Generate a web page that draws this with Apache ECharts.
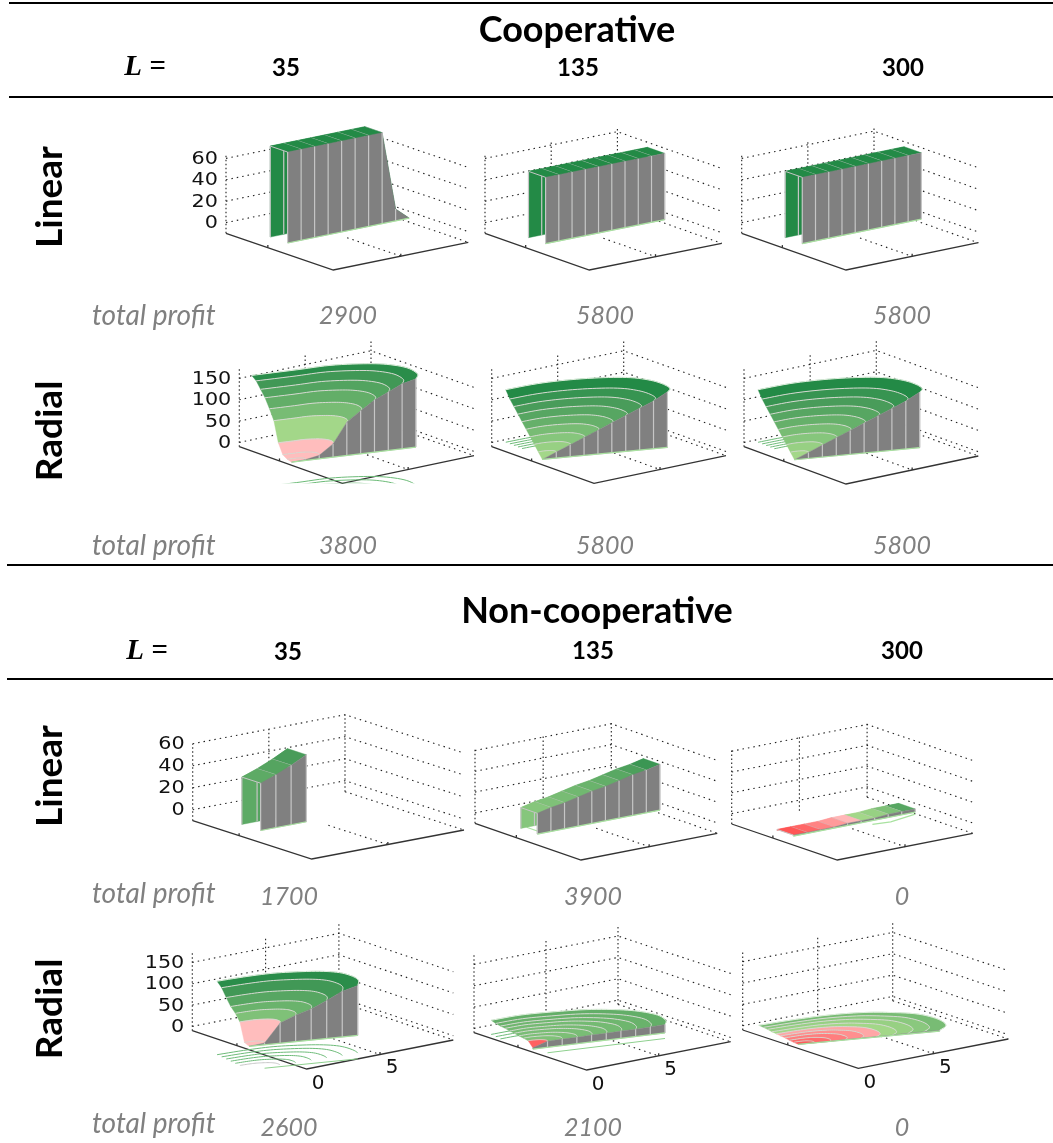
<!DOCTYPE html>
<html>
<head>
<meta charset="utf-8">
<title>Cooperative / Non-cooperative profit surfaces</title>
<script src="https://cdn.jsdelivr.net/npm/echarts@6/dist/echarts.min.js"></script>
<style>
  html, body { margin: 0; padding: 0; background: #fff; }
  #main { width: 1053px; height: 1143px; }
</style>
</head>
<body>
<div id="main"></div>
<script>
// heights, one value per grid line
const coopLinear35 = [85, 85, 85, 85, 85, 85, 85, 85, 11, 0];
const coopLinear135 = [62, 62, 62, 62, 62, 62, 62, 62, 62, 62];
const coopLinear300 = [62, 62, 62, 62, 62, 62, 62, 62, 62, 62];
const nonLinear35 = [43, 48, 54, 61];
const nonLinear135 = [20, 23, 25, 28, 31, 33, 36, 39, 41, 44];
const nonLinear300 = [1, 1, 1, 1, 2, 2, 2, 3, 3, 3];
const coopRadial35 = [0, 2, 8, 31, 78, 101, 122, 137, 152, 160];
const coopRadial135 = [0, 14, 28, 42, 56, 70, 84, 98, 112, 130];
const coopRadial300 = [0, 14, 28, 42, 56, 70, 84, 98, 112, 130];
const nonRadial35 = [0, 4, 47, 62, 73, 89, 107, 117];
const nonRadial135 = [3, 14, 15, 15, 16, 16, 17, 17, 18, 20];
const nonRadial300 = [0, 0, 0, 1, 1, 1, 1, 2, 2, 2];

// colour value of each band, -1 red .. 0 pale green .. 1 dark green
const shadeCoopLinear35 = [1, 1, 1, 1, 1, 1, 1, 1, 1];
const shadeCoopLinear135 = [1, 1, 1, 1, 1, 1, 1, 1, 1];
const shadeNonLinear35 = [0.55, 0.62, 0.72];
const shadeNonLinear135 = [0.25, 0.3, 0.35, 0.4, 0.45, 0.5, 0.58, 0.68, 0.82];
const shadeNonLinear300 = [-1, -0.85, -0.6, -0.4, -0.15, 0.02, 0.12, 0.3, 0.6];
const shadeCoopRadial35 = [-0.1, -0.1, -0.1, 0.02, 0.35, 0.5, 0.63, 0.78, 0.95];
const shadeCoopRadial135 = [0.02, 0.12, 0.25, 0.35, 0.48, 0.6, 0.72, 0.85, 1];
const shadeNonRadial35 = [-0.1, -0.1, 0.3, 0.45, 0.6, 0.78, 0.95];
const shadeNonRadial135 = [-0.9, 0.3, 0.32, 0.34, 0.36, 0.38, 0.42, 0.46, 0.5];
const shadeNonRadial300 = [-0.95, -0.8, -0.65, -0.5, -0.3, 0.03, 0.12, 0.22, 0.35];

// outer edge of the radial surfaces on the two floor axes
const rimU35 = [0.42, 3.32, 5.5, 7.31, 8.35, 8.85, 8.55, 7.81];
const rimV35 = [9.33, 8.67, 8.23, 7.31, 6.36, 5.06, 3.65, 2.84];
const rimU135 = [0.3, 2.61, 4.74, 6.59, 7.88, 8.48, 8.56, 8.3, 7.74];
const rimV135 = [9.01, 8.91, 8.39, 7.56, 6.58, 5.39, 4.25, 3.3, 2.81];
const rimUNon35 = [0.45, 2.13, 3.7, 4.9, 6.12, 6.8, 6.89, 6.62, 5.95];
const rimVNon35 = [8.41, 8.25, 7.96, 7.46, 6.71, 5.85, 4.81, 3.97, 3.16];
const rimUNon135 = [0.69, 2.69, 4.52, 6.24, 7.51, 8.29, 8.63, 8.28, 7.73];
const rimVNon135 = [9.36, 9.26, 8.72, 8.02, 7.05, 6.03, 4.73, 3.56, 2.93];
const rimUNon300 = [0.62, 2.98, 4.95, 6.66, 7.79, 8.72, 8.91, 8.47, 7.57];
const rimVNon300 = [9.41, 9.19, 8.82, 8.14, 7.27, 6.13, 4.65, 3.41, 2.79];

const zTicksLinear = [0, 20, 40, 60];
const zTicksRadial = [0, 50, 100, 150];
const columnLabels = ["35", "135", "300"];
const profitCoopLinear = ["2900", "5800", "5800"];
const profitCoopRadial = ["3800", "5800", "5800"];
const profitNonLinear = ["1700", "3900", "0"];
const profitNonRadial = ["2600", "2100", "0"];

// colours
const GRAY = "#808080";
const GRID = "#c6c6c6";
const EDGE = "#a9e2a0";
const CONTOUR = "#6dbb78";
const shadeStops = [
  [-1, [255, 85, 85]], [-0.5, [255, 143, 143]], [-0.02, [255, 198, 198]],
  [0, [166, 217, 138]], [0.25, [134, 198, 124]], [0.5, [99, 174, 104]],
  [0.75, [69, 154, 88]], [1, [35, 138, 70]],
];
function shadeColor(s) {
  for (let i = 1; i < shadeStops.length; i++) {
    if (s <= shadeStops[i][0]) {
      const a = shadeStops[i - 1], b = shadeStops[i];
      const t = (s - a[0]) / (b[0] - a[0]);
      const c = a[1].map((v, k) => Math.round(v + (b[1][k] - v) * t));
      return "rgb(" + c.join(",") + ")";
    }
  }
  return "rgb(35,138,70)";
}

// box: front, left and right floor corners on the page, px per z unit
function makeBox(F, L, R, zPx, zTop, zTicks) {
  return {
    F: F, L: L, R: R, zPx: zPx, zMin: -10, zTop: zTop, zTicks: zTicks,
    U: [(R[0] - F[0]) / 10, (R[1] - F[1]) / 10],
    V: [(L[0] - F[0]) / 10, (L[1] - F[1]) / 10],
  };
}
function project(box, p) {
  return [
    box.F[0] + p[0] * box.U[0] + p[1] * box.V[0],
    box.F[1] + p[0] * box.U[1] + p[1] * box.V[1] - (p[2] - box.zMin) * box.zPx,
  ];
}

function addBox(faces, box) {
  const dot = { stroke: "#222", lineWidth: 1.1, lineDash: [1.5, 4] };
  const dotUp = { stroke: "#222", lineWidth: 1.1, lineDash: [1.5, 2.5] };
  const solid = { stroke: "#333", lineWidth: 1.3 };
  box.zTicks.forEach((z) => {
    faces.push({ kind: "line", pts: [[0, 10, z], [10, 10, z], [10, 0, z]], style: dot });
  });
  [0, 5, 10].forEach((u) => {
    faces.push({ kind: "line", pts: [[u, 10, box.zMin], [u, 10, box.zTop]], style: dotUp });
  });
  faces.push({ kind: "line", pts: [[10, 10, box.zMin], [10, 0, box.zMin]], style: dot });
  faces.push({ kind: "line", pts: [[5, 5, box.zMin], [5, 0, box.zMin]], style: dot });
  faces.push({ kind: "line", pts: [[0, 10, box.zMin], [0, 0, box.zMin], [10, 0, box.zMin]], style: solid });
  const tick = 2.5 / box.zPx;
  faces.push({ kind: "line", pts: [[5, 0, box.zMin], [5, 0, box.zMin + tick]], style: solid });
  faces.push({ kind: "line", pts: [[0, 6.1, box.zMin], [0, 6.1, box.zMin + tick]], style: solid });
}

function addZLabels(faces, box) {
  box.zTicks.forEach((z) => {
    faces.push({ kind: "text", pts: [[0, 10, z]], text: String(z), dx: -8, dy: 1, align: "right", scaleX: 1.22, size: 17 });
  });
}
function addFloorLabels(faces) {
  faces.push({ kind: "text", pts: [[0, 0, -10]], text: "0", dx: 11.5, dy: 15, align: "center", scaleX: 1.05, size: 19 });
  faces.push({ kind: "text", pts: [[5, 0, -10]], text: "5", dx: 12, dy: 14, align: "center", scaleX: 1.05, size: 19 });
}

// straight strip: back wall, top, front wall
function addStrip(faces, u0, vFront, width, zs, shades) {
  const vBack = vFront + width;
  for (let i = 0; i < zs.length - 1; i++) {
    faces.push({
      kind: "poly",
      pts: [[u0 + i, vBack, 0], [u0 + i + 1, vBack, 0], [u0 + i + 1, vBack, zs[i + 1]], [u0 + i, vBack, zs[i]]],
      fill: shadeColor(shades[i]),
    });
    faces.push({ kind: "line", pts: [[u0 + i, vBack, 0], [u0 + i, vBack, zs[i]]], style: { stroke: GRID, lineWidth: 1.2 } });
  }
  for (let i = zs.length - 2; i >= 0; i--) {
    faces.push({
      kind: "poly",
      pts: [[u0 + i, vFront, zs[i]], [u0 + i + 1, vFront, zs[i + 1]], [u0 + i + 1, vBack, zs[i + 1]], [u0 + i, vBack, zs[i]]],
      fill: shadeColor(shades[i]),
    });
    faces.push({ kind: "line", pts: [[u0 + i, vFront, zs[i]], [u0 + i, vBack, zs[i]]], style: { stroke: GRID, lineWidth: 1 } });
  }
  for (let i = 0; i < zs.length - 1; i++) {
    faces.push({
      kind: "poly",
      pts: [[u0 + i, vFront, 0], [u0 + i + 1, vFront, 0], [u0 + i + 1, vFront, zs[i + 1]], [u0 + i, vFront, zs[i]]],
      fill: GRAY,
    });
  }
  for (let i = 0; i < zs.length; i++) {
    faces.push({ kind: "line", pts: [[u0 + i, vFront, 0], [u0 + i, vFront, zs[i]]], style: { stroke: GRID, lineWidth: 1.2 } });
  }
  faces.push({
    kind: "line",
    pts: [[u0, vFront, 0], [u0 + zs.length - 1, vFront, 0]],
    style: { stroke: EDGE, lineWidth: 1.2 },
  });
}

// smooth curve through the rim readings
function smoothRim(us, vs) {
  const out = [];
  const n = us.length;
  const at = (arr, i) => arr[Math.max(0, Math.min(n - 1, i))];
  for (let i = 0; i < n - 1; i++) {
    for (let t = 0; t < 6; t++) {
      const s = t / 6;
      const cr = (arr) => 0.5 * (2 * at(arr, i) + (at(arr, i + 1) - at(arr, i - 1)) * s +
        (2 * at(arr, i - 1) - 5 * at(arr, i) + 4 * at(arr, i + 1) - at(arr, i + 2)) * s * s +
        (3 * at(arr, i) - at(arr, i - 1) - 3 * at(arr, i + 1) + at(arr, i + 2)) * s * s * s);
      out.push([cr(us), cr(vs)]);
    }
  }
  out.push([us[n - 1], vs[n - 1]]);
  return out;
}

// radial surface: bands between scaled copies of the rim around the apex
// contour = { z, from, part, edge } draws the floor contours first
function addRadial(faces, box, apex, rimU, rimV, zs, shades, contour) {
  const rim = smoothRim(rimU, rimV);
  const N = zs.length - 1;
  const ring = (k, z) => rim.map((p) => [
    apex[0] + (p[0] - apex[0]) * k / N,
    apex[1] + (p[1] - apex[1]) * k / N,
    z,
  ]);
  const end = rim[rim.length - 1];
  const onEdge = (k, z) => [apex[0] + (end[0] - apex[0]) * k / N, apex[1] + (end[1] - apex[1]) * k / N, z];

  if (contour) {
    for (let k = N; k >= contour.from; k--) {
      const pts = ring(k, contour.z);
      faces.push({
        kind: "line", pts: pts.slice(0, Math.round(pts.length * contour.part)),
        style: { stroke: shades[k - 1] < 0 ? GRID : CONTOUR, lineWidth: 1 },
        clipY: box.F[1],
      });
    }
    if (contour.edge) {
      faces.push({
        kind: "line", pts: [onEdge(1, contour.z), onEdge(N, contour.z)],
        style: { stroke: "#8ed08e", lineWidth: 1 }, clipY: box.F[1],
      });
    }
  }
  for (let k = N; k >= 1; k--) {
    faces.push({
      kind: "poly",
      pts: ring(k, zs[k]).concat(ring(k - 1, zs[k - 1]).reverse()),
      fill: shadeColor(shades[k - 1]),
    });
    faces.push({
      kind: "line", pts: ring(k, zs[k]),
      style: { stroke: k === N ? "#dfeedd" : "#d4d8d0", lineWidth: 1 },
    });
  }
  for (let k = 0; k < N; k++) {
    faces.push({
      kind: "poly",
      pts: [onEdge(k, 0), onEdge(k + 1, 0), onEdge(k + 1, zs[k + 1]), onEdge(k, zs[k])],
      fill: GRAY,
    });
  }
  for (let k = 1; k <= N; k++) {
    faces.push({ kind: "line", pts: [onEdge(k, 0), onEdge(k, zs[k])], style: { stroke: GRID, lineWidth: 1.2 } });
  }
  faces.push({ kind: "line", pts: [onEdge(0, 0), onEdge(N, 0)], style: { stroke: EDGE, lineWidth: 1.2 } });
}

function makeSeries(name, box, fill) {
  const faces = [];
  addBox(faces, box);
  fill(faces);
  return {
    name: name,
    type: "custom",
    coordinateSystem: "cartesian2d",
    silent: true,
    animation: false,
    clip: false,
    data: faces.map((f, i) => [i]),
    renderItem(params, api) {
      const f = faces[api.value(0)];
      const pts = f.pts.map((p) => api.coord(project(box, p)));
      if (f.kind === "text") {
        return {
          type: "text",
          x: pts[0][0] + f.dx,
          y: pts[0][1] + f.dy,
          scaleX: f.scaleX,
          style: {
            text: f.text, fontFamily: "DejaVu Sans", fontSize: f.size, fill: "#111",
            align: f.align, verticalAlign: "middle",
          },
        };
      }
      if (f.kind === "poly") {
        return {
          type: "polygon",
          shape: { points: pts },
          style: { fill: f.fill, stroke: f.fill, lineWidth: 0.4 },
        };
      }
      const el = { type: "polyline", shape: { points: pts }, style: Object.assign({ fill: null }, f.style) };
      if (f.clipY) {
        el.clipPath = { type: "rect", shape: { x: 0, y: 0, width: 1053, height: f.clipY } };
      }
      return el;
    },
  };
}

const box1 = makeBox([333.3, 270], [226, 233.3], [468.3, 242.3], 1.07, 63, zTicksLinear);
const box2 = makeBox([589.3, 270], [485, 233.3], [721.7, 243.3], 1.07, 63, zTicksLinear);
const box3 = makeBox([846, 270], [741.7, 233.3], [978.3, 242.7], 1.07, 63, zTicksLinear);
const box4 = makeBox([342.3, 483.3], [239.3, 446.7], [474, 455.7], 0.427, 177, zTicksRadial);
const box5 = makeBox([594, 483.3], [491.7, 446.7], [726, 455.7], 0.427, 177, zTicksRadial);
const box6 = makeBox([846, 484], [744, 446.7], [978.3, 456], 0.427, 177, zTicksRadial);
const box7 = makeBox([311.7, 859], [192.7, 820.7], [464, 830], 1.1, 60, zTicksLinear);
const box8 = makeBox([581, 860], [475, 823.3], [717.3, 833.3], 1.04, 63, zTicksLinear);
const box9 = makeBox([837.3, 860], [731.7, 824], [972.7, 833.3], 1.04, 63, zTicksLinear);
const box10 = makeBox([306.7, 1069], [192.3, 1030.7], [453.3, 1040], 0.427, 177, zTicksRadial);
const box11 = makeBox([586.7, 1070], [474, 1032.7], [730.7, 1041.7], 0.427, 177, zTicksRadial);
const box12 = makeBox([858.3, 1068.3], [742.7, 1030], [1008.3, 1039], 0.427, 177, zTicksRadial);

const series = [
  makeSeries("cooperative linear 35", box1, (faces) => {
    addZLabels(faces, box1);
    addStrip(faces, 0.09, 4.37, 1.62, coopLinear35, shadeCoopLinear35);
  }),
  makeSeries("cooperative linear 135", box2, (faces) => {
    addStrip(faces, 0.03, 4.23, 1.64, coopLinear135, shadeCoopLinear135);
  }),
  makeSeries("cooperative linear 300", box3, (faces) => {
    addStrip(faces, 0.03, 4.23, 1.64, coopLinear300, shadeCoopLinear135);
  }),
  makeSeries("cooperative radial 35", box4, (faces) => {
    addZLabels(faces, box4);
    addRadial(faces, box4, [-0.15, 4.73], rimU35, rimV35, coopRadial35, shadeCoopRadial35, { z: -104, from: 7, part: 1, edge: false });
  }),
  makeSeries("cooperative radial 135", box5, (faces) => {
    addRadial(faces, box5, [0.15, 5.24], rimU135, rimV135, coopRadial135, shadeCoopRadial135, { z: 7, from: 5, part: 0.5, edge: false });
  }),
  makeSeries("cooperative radial 300", box6, (faces) => {
    addRadial(faces, box6, [0.15, 5.24], rimU135, rimV135, coopRadial300, shadeCoopRadial135, { z: 7, from: 5, part: 0.5, edge: false });
  }),
  makeSeries("non-cooperative linear 35", box7, (faces) => {
    addZLabels(faces, box7);
    addStrip(faces, 0.14, 4.47, 1.58, nonLinear35, shadeNonLinear35);
  }),
  makeSeries("non-cooperative linear 135", box8, (faces) => {
    faces.push({ kind: "line", pts: [[0.05, 5.2, 3], [0.05, 4.19, 3]], style: { stroke: EDGE, lineWidth: 1.2 } });
    addStrip(faces, 0.05, 4.19, 1.55, nonLinear135, shadeNonLinear135);
  }),
  makeSeries("non-cooperative linear 300", box9, (faces) => {
    addStrip(faces, -0.2, 3.9, 1.55, nonLinear300, shadeNonLinear300);
    faces.push({ kind: "line", pts: [[5.4, 3.6, -2], [6.6, 3.4, -2], [8.8, 3.9, -2]], style: { stroke: EDGE, lineWidth: 1.2 } });
  }),
  makeSeries("non-cooperative radial 35", box10, (faces) => {
    addZLabels(faces, box10);
    addRadial(faces, box10, [-0.11, 4.9], rimUNon35, rimVNon35, nonRadial35, shadeNonRadial35, { z: -55, from: 2, part: 0.86, edge: true });
    addFloorLabels(faces);
  }),
  makeSeries("non-cooperative radial 135", box11, (faces) => {
    addRadial(faces, box11, [-0.15, 4.59], rimUNon135, rimVNon135, nonRadial135, shadeNonRadial135, { z: -13, from: 7, part: 0.4, edge: true });
    addFloorLabels(faces);
  }),
  makeSeries("non-cooperative radial 300", box12, (faces) => {
    addRadial(faces, box12, [-0.03, 5.17], rimUNon300, rimVNon300, nonRadial300, shadeNonRadial300, null);
    addFloorLabels(faces);
  }),
];

function label(text, x, y, size, extra) {
  return {
    type: "text", x: x, y: y, silent: true,
    rotation: (extra && extra.rotation) || 0,
    style: {
      text: text,
      fontFamily: (extra && extra.family) || "Lato",
      fontSize: size,
      fontWeight: (extra && extra.weight) || "bold",
      fontStyle: (extra && extra.italic) ? "italic" : "normal",
      fill: (extra && extra.color) || "#000",
      align: (extra && extra.align) || "center",
      verticalAlign: "middle",
    },
  };
}
function rule(y, x0) {
  return { type: "line", silent: true, shape: { x1: x0, y1: y, x2: 1053, y2: y }, style: { stroke: "#000", lineWidth: 2 } };
}
const gray = { weight: "normal", italic: true, color: GRAY };
const grayLeft = { weight: "normal", italic: true, color: GRAY, align: "left" };
const serif = { family: "Liberation Serif", italic: true };
const turned = { rotation: Math.PI / 2 };

const texts = [
  rule(3, 9), rule(97, 9), rule(565, 7), rule(679, 7),
  label("Cooperative", 577, 30, 36),
  label("Non-cooperative", 597, 611, 36),
  label("L =", 145, 68, 29, serif),
  label("L =", 147, 652, 29, serif),
  label(columnLabels[0], 286, 68, 24), label(columnLabels[1], 578, 68, 24), label(columnLabels[2], 903, 68, 24),
  label(columnLabels[0], 288, 652, 24), label(columnLabels[1], 593, 651, 24), label(columnLabels[2], 902, 651, 24),
  label("Linear", 50, 197, 37, turned), label("Radial", 50, 431, 37, turned),
  label("Linear", 50, 776, 37, turned), label("Radial", 50, 1009, 37, turned),
  label("total profit", 92, 316, 28, grayLeft), label("total profit", 92, 546, 28, grayLeft),
  label("total profit", 92, 894, 28, grayLeft), label("total profit", 92, 1124, 28, grayLeft),
];
[[profitCoopLinear, [348, 605, 902], 316], [profitCoopRadial, [348, 605, 902], 546],
 [profitNonLinear, [289, 593, 902], 897], [profitNonRadial, [289, 593, 902], 1128]].forEach((row) => {
  row[0].forEach((t, i) => texts.push(label(t, row[1][i], row[2], 25, gray)));
});

const myChart = echarts.init(document.getElementById("main"));
myChart.setOption({
  animation: false,
  grid: { left: 0, right: 0, top: 0, bottom: 0 },
  xAxis: { type: "value", min: 0, max: 1053, show: false },
  yAxis: { type: "value", min: 0, max: 1143, inverse: true, show: false },
  graphic: { elements: texts },
  series: series,
});
</script>
</body>
</html>
